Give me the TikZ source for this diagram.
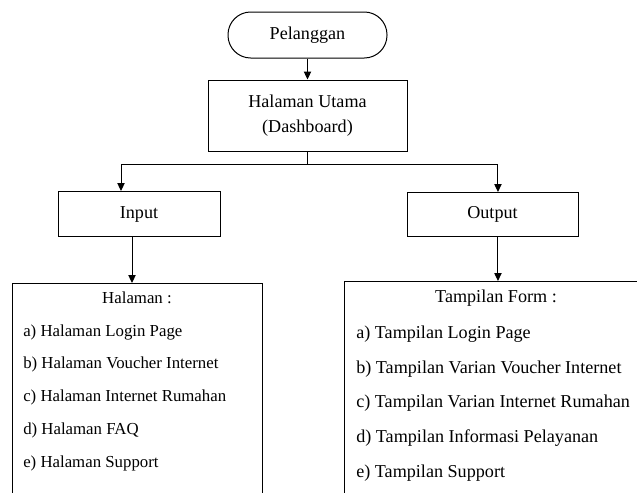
\documentclass[tikz,border=0pt]{standalone}
\usepackage{fontspec}
\setmainfont{Liberation Serif}
\usetikzlibrary{arrows.meta,positioning}

\begin{document}
\begin{tikzpicture}[
    x=0.75pt, y=-0.75pt,
    node distance=15.75pt,
    every node/.style={font=\fontsize{13.6}{15}\selectfont},
    terminal/.style={draw, rounded corners=17pt, minimum width=119.25pt, minimum height=34.5pt, line width=0.75pt},
    box/.style={draw, align=center, line width=0.75pt},
    listbox/.style={draw, line width=0.75pt, anchor=north west, minimum height=180pt},
    item/.style={anchor=west, inner sep=0pt},
    small/.style={font=\fontsize{12.6}{14}\selectfont},
    flow/.style={-{Triangle[length=6pt, width=5.5pt]}, line width=0.75pt},
    link/.style={line width=0.75pt}
]
\clip (0,0) rectangle (637,493);
\node[terminal] (pelanggan) at (307.5,35) {Pelanggan};
\node[box, minimum width=149.25pt, minimum height=53.25pt, below=of pelanggan] (utama) {Halaman Utama\\[3.5pt](Dashboard)};
\coordinate (split) at ([yshift=-9.75pt]utama.south);
\node[box, minimum width=121.5pt, minimum height=33.75pt, anchor=north] (input) at (139,191) {Input};
\node[box, minimum width=128.25pt, minimum height=33pt, anchor=north] (output) at (492.5,192) {Output};
\node[listbox, minimum width=187.5pt] (halaman) at (12,283) {};
\node[listbox, minimum width=240pt] (tampilan) at (344,281) {};
% isi halaman input
\node[small] (halaman-judul) at (137,298) {Halaman :};
\node[item, small] (halaman-a) at (23,332) {a) Halaman Login Page};
\node[item, small] (halaman-b) at (23,364) {b) Halaman Voucher Internet};
\node[item, small] (halaman-c) at (23,397) {c) Halaman Internet Rumahan};
\node[item, small] (halaman-d) at (23,430) {d) Halaman FAQ};
\node[item, small] (halaman-e) at (23,463) {e) Halaman Support};
% isi tampilan output
\node (tampilan-judul) at (496,298) {Tampilan Form :};
\node[item] (tampilan-a) at (356,334) {a) Tampilan Login Page};
\node[item] (tampilan-b) at (356,369) {b) Tampilan Varian Voucher Internet};
\node[item] (tampilan-c) at (356,403) {c) Tampilan Varian Internet Rumahan};
\node[item] (tampilan-d) at (356,438) {d) Tampilan Informasi Pelayanan};
\node[item] (tampilan-e) at (356,473) {e) Tampilan Support};
\draw[flow] (pelanggan) -- (utama);
\draw[link] (utama) -- (split);
\draw[flow] (split) -| ([xshift=-13.5pt]input.north);
\draw[flow] (split) -| ([xshift=4.1pt]output.north);
\draw[flow] ([xshift=-5.25pt]input.south) -- ([xshift=-5.25pt]input.south |- halaman.north);
\draw[flow] ([xshift=4.1pt]output.south) -- ([xshift=4.1pt]output.south |- tampilan.north);
\end{tikzpicture}
\end{document}
